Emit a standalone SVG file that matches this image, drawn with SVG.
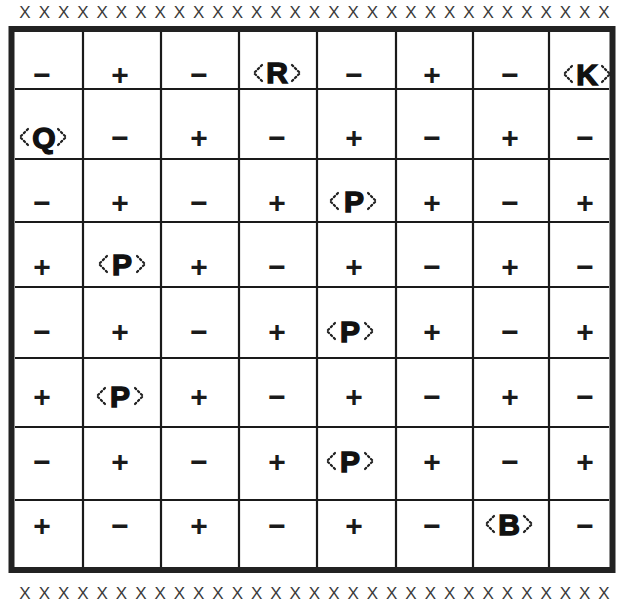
<svg xmlns="http://www.w3.org/2000/svg" xmlns:xlink="http://www.w3.org/1999/xlink" width="622" height="604" viewBox="0 0 622 604">
<style>
.s{font-family:"Liberation Sans",Arial,sans-serif;font-weight:bold;font-size:30px;fill:#1a1a1a;text-anchor:middle}
.pc{font-family:"Liberation Sans",Arial,sans-serif;font-weight:bold;font-size:30px;fill:#111;stroke:#111;stroke-width:1.4;text-anchor:middle}
.br{fill:none;stroke:#222;stroke-width:2.2;stroke-dasharray:1.6 2.6;stroke-linecap:round}
.x{font-family:"Liberation Sans",Arial,sans-serif;font-size:17px;fill:#3a3a3a;text-anchor:middle}
.gl{stroke:#1a1a1a;stroke-width:2.2;fill:none}
.fr{stroke:#222;stroke-width:6;fill:none}
</style>
<defs>
<path id="br" d="M-15,-8 L-23,0 L-15,8 M15,-8 L23,0 L15,8"/>
</defs>
<rect width="622" height="604" fill="#fff"/>
<g id="border-top">
<text class="x" y="18" x="25 44.3 63.6 82.9 102.2 121.5 140.8 160.1 179.4 198.7 218 237.3 256.6 275.9 295.2 314.5 333.8 353.1 372.4 391.7 411 430.3 449.6 468.9 488.2 507.5 526.8 546.1 565.4 584.7 604">XXXXXXXXXXXXXXXXXXXXXXXXXXXXXXX</text>
</g>
<g id="border-bottom">
<text class="x" y="599" x="25 44.3 63.6 82.9 102.2 121.5 140.8 160.1 179.4 198.7 218 237.3 256.6 275.9 295.2 314.5 333.8 353.1 372.4 391.7 411 430.3 449.6 468.9 488.2 507.5 526.8 546.1 565.4 584.7 604">XXXXXXXXXXXXXXXXXXXXXXXXXXXXXXX</text>
</g>
<g id="grid">
<path class="gl" d="M83,32V568 M161,32V568 M239,32V568 M317,32V568 M396,32V568 M473,32V568 M549,32V568"/>
<path class="gl" d="M15,89H609 M15,159H609 M15,222H609 M15,287H609 M15,358H609 M15,427H609 M15,500H609"/>
<rect class="fr" x="11.5" y="29" width="601" height="541"/>
</g>
<g id="row1">
<text class="s" x="42" y="84.5">−</text>
<text class="s" x="120" y="84.5">+</text>
<text class="s" x="199" y="84.5">−</text>
<g id="R"><use xlink:href="#br" class="br" x="277" y="73"/><text class="pc" x="277" y="83">R</text></g>
<text class="s" x="354" y="84.5">−</text>
<text class="s" x="432" y="84.5">+</text>
<text class="s" x="510" y="84.5">−</text>
<g id="K"><use xlink:href="#br" class="br" x="587" y="74"/><text class="pc" x="587" y="85">K</text></g>
</g>
<g id="row2">
<g id="Q"><use xlink:href="#br" class="br" x="43" y="137"/><text class="pc" x="44" y="148">Q</text></g>
<text class="s" x="120" y="147.5">−</text>
<text class="s" x="199" y="147.5">+</text>
<text class="s" x="277" y="147.5">−</text>
<text class="s" x="354" y="147.5">+</text>
<text class="s" x="432" y="147.5">−</text>
<text class="s" x="510" y="147.5">+</text>
<text class="s" x="585" y="147.5">−</text>
</g>
<g id="row3">
<text class="s" x="42" y="212.5">−</text>
<text class="s" x="120" y="212.5">+</text>
<text class="s" x="199" y="212.5">−</text>
<text class="s" x="277" y="212.5">+</text>
<g id="P1"><use xlink:href="#br" class="br" x="353" y="201"/><text class="pc" x="354" y="212">P</text></g>
<text class="s" x="432" y="212.5">+</text>
<text class="s" x="510" y="212.5">−</text>
<text class="s" x="585" y="212.5">+</text>
</g>
<g id="row4">
<text class="s" x="42" y="276.5">+</text>
<g id="P2"><use xlink:href="#br" class="br" x="122" y="264"/><text class="pc" x="122" y="275">P</text></g>
<text class="s" x="199" y="276.5">+</text>
<text class="s" x="277" y="276.5">−</text>
<text class="s" x="354" y="276.5">+</text>
<text class="s" x="432" y="276.5">−</text>
<text class="s" x="510" y="276.5">+</text>
<text class="s" x="585" y="276.5">−</text>
</g>
<g id="row5">
<text class="s" x="42" y="341.5">−</text>
<text class="s" x="120" y="341.5">+</text>
<text class="s" x="199" y="341.5">−</text>
<text class="s" x="277" y="341.5">+</text>
<g id="P3"><use xlink:href="#br" class="br" x="350" y="331"/><text class="pc" x="350" y="342">P</text></g>
<text class="s" x="432" y="341.5">+</text>
<text class="s" x="510" y="341.5">−</text>
<text class="s" x="585" y="341.5">+</text>
</g>
<g id="row6">
<text class="s" x="42" y="406.5">+</text>
<g id="P4"><use xlink:href="#br" class="br" x="120" y="396"/><text class="pc" x="120" y="407">P</text></g>
<text class="s" x="199" y="406.5">+</text>
<text class="s" x="277" y="406.5">−</text>
<text class="s" x="354" y="406.5">+</text>
<text class="s" x="432" y="406.5">−</text>
<text class="s" x="510" y="406.5">+</text>
<text class="s" x="585" y="406.5">−</text>
</g>
<g id="row7">
<text class="s" x="42" y="471.5">−</text>
<text class="s" x="120" y="471.5">+</text>
<text class="s" x="199" y="471.5">−</text>
<text class="s" x="277" y="471.5">+</text>
<g id="P5"><use xlink:href="#br" class="br" x="350" y="461"/><text class="pc" x="350" y="472">P</text></g>
<text class="s" x="432" y="471.5">+</text>
<text class="s" x="510" y="471.5">−</text>
<text class="s" x="585" y="471.5">+</text>
</g>
<g id="row8">
<text class="s" x="42" y="535.5">+</text>
<text class="s" x="120" y="535.5">−</text>
<text class="s" x="199" y="535.5">+</text>
<text class="s" x="277" y="535.5">−</text>
<text class="s" x="354" y="535.5">+</text>
<text class="s" x="432" y="535.5">−</text>
<g id="B"><use xlink:href="#br" class="br" x="509" y="524"/><text class="pc" x="509" y="535">B</text></g>
<text class="s" x="585" y="535.5">−</text>
</g>
</svg>
